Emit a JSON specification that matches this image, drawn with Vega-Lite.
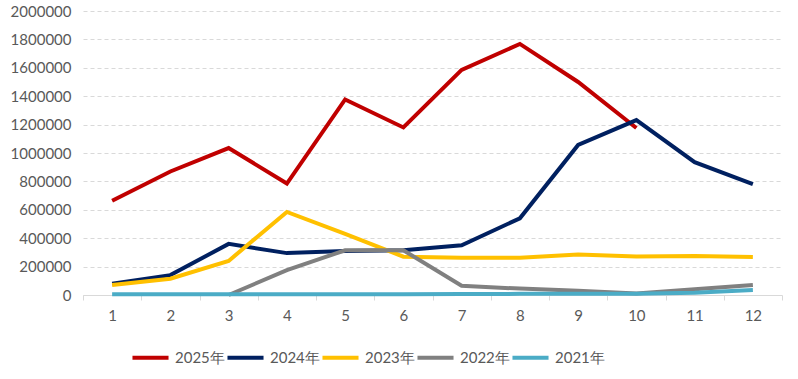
{
  "$schema": "https://vega.github.io/schema/vega-lite/v6.json",
  "width": 699,
  "height": 284,
  "autosize": {"type": "none"},
  "padding": {"left": 83, "top": 11, "right": 16, "bottom": 84},
  "background": "white",
  "config": {
    "view": {"stroke": null},
    "font": "Lato"
  },
  "data": {
    "values": [
      {"year": "2025年", "month": 1, "value": 664000},
      {"year": "2025年", "month": 2, "value": 870000},
      {"year": "2025年", "month": 3, "value": 1035000},
      {"year": "2025年", "month": 4, "value": 785000},
      {"year": "2025年", "month": 5, "value": 1377000},
      {"year": "2025年", "month": 6, "value": 1180000},
      {"year": "2025年", "month": 7, "value": 1585000},
      {"year": "2025年", "month": 8, "value": 1768000},
      {"year": "2025年", "month": 9, "value": 1500000},
      {"year": "2025年", "month": 10, "value": 1176000},
      {"year": "2024年", "month": 1, "value": 80000},
      {"year": "2024年", "month": 2, "value": 140000},
      {"year": "2024年", "month": 3, "value": 360000},
      {"year": "2024年", "month": 4, "value": 295000},
      {"year": "2024年", "month": 5, "value": 310000},
      {"year": "2024年", "month": 6, "value": 315000},
      {"year": "2024年", "month": 7, "value": 350000},
      {"year": "2024年", "month": 8, "value": 540000},
      {"year": "2024年", "month": 9, "value": 1057000},
      {"year": "2024年", "month": 10, "value": 1232000},
      {"year": "2024年", "month": 11, "value": 935000},
      {"year": "2024年", "month": 12, "value": 780000},
      {"year": "2023年", "month": 1, "value": 70000},
      {"year": "2023年", "month": 2, "value": 115000},
      {"year": "2023年", "month": 3, "value": 240000},
      {"year": "2023年", "month": 4, "value": 585000},
      {"year": "2023年", "month": 5, "value": 430000},
      {"year": "2023年", "month": 6, "value": 270000},
      {"year": "2023年", "month": 7, "value": 262000},
      {"year": "2023年", "month": 8, "value": 262000},
      {"year": "2023年", "month": 9, "value": 285000},
      {"year": "2023年", "month": 10, "value": 272000},
      {"year": "2023年", "month": 11, "value": 275000},
      {"year": "2023年", "month": 12, "value": 268000},
      {"year": "2022年", "month": 3, "value": 0},
      {"year": "2022年", "month": 4, "value": 175000},
      {"year": "2022年", "month": 5, "value": 315000},
      {"year": "2022年", "month": 6, "value": 315000},
      {"year": "2022年", "month": 7, "value": 65000},
      {"year": "2022年", "month": 8, "value": 45000},
      {"year": "2022年", "month": 9, "value": 30000},
      {"year": "2022年", "month": 10, "value": 10000},
      {"year": "2022年", "month": 11, "value": 40000},
      {"year": "2022年", "month": 12, "value": 70000},
      {"year": "2021年", "month": 1, "value": 5000},
      {"year": "2021年", "month": 2, "value": 5000},
      {"year": "2021年", "month": 3, "value": 5000},
      {"year": "2021年", "month": 4, "value": 5000},
      {"year": "2021年", "month": 5, "value": 5000},
      {"year": "2021年", "month": 6, "value": 6000},
      {"year": "2021年", "month": 7, "value": 7000},
      {"year": "2021年", "month": 8, "value": 8000},
      {"year": "2021年", "month": 9, "value": 8000},
      {"year": "2021年", "month": 10, "value": 8000},
      {"year": "2021年", "month": 11, "value": 15000},
      {"year": "2021年", "month": 12, "value": 35000}
    ]
  },
  "mark": {"type": "line", "strokeWidth": 4, "strokeJoin": "miter", "strokeCap": "butt"},
  "encoding": {
    "x": {
      "field": "month",
      "type": "ordinal",
      "bandPosition": 0.5,
      "scale": {"type": "band", "paddingInner": 0, "paddingOuter": 0},
      "axis": {
        "title": null,
        "labelAngle": 0,
        "labelFont": "Lato",
        "labelFontSize": 15,
        "labelColor": "#595959",
        "labelPadding": 8,
        "domainColor": "#D9D9D9",
        "domainWidth": 1,
        "tickColor": "#D9D9D9",
        "tickSize": 5,
        "tickBand": "extent",
        "grid": false
      }
    },
    "y": {
      "field": "value",
      "type": "quantitative",
      "scale": {"domain": [0, 2000000], "nice": false},
      "axis": {
        "title": null,
        "values": [0, 200000, 400000, 600000, 800000, 1000000, 1200000, 1400000, 1600000, 1800000, 2000000],
        "format": "d",
        "labelFont": "Lato",
        "labelFontSize": 15,
        "labelColor": "#595959",
        "labelPadding": 12,
        "domain": false,
        "ticks": false,
        "grid": true,
        "gridColor": "#D9D9D9",
        "gridDash": [4, 3],
        "gridWidth": 1
      }
    },
    "color": {
      "field": "year",
      "type": "nominal",
      "scale": {
        "domain": ["2025年", "2024年", "2023年", "2022年", "2021年"],
        "range": ["#C00000", "#002060", "#FFC000", "#808080", "#4BACC6"]
      },
      "legend": {
        "title": null,
        "orient": "none",
        "legendX": 47,
        "legendY": 326,
        "direction": "horizontal",
        "symbolType": "stroke",
        "symbolStrokeWidth": 4,
        "symbolSize": 1300,
        "labelFont": "Lato",
        "labelFontSize": 15,
        "labelColor": "#595959",
        "labelOffset": 4,
        "columnPadding": -16,
        "symbolOffset": 0
      }
    }
  }
}
